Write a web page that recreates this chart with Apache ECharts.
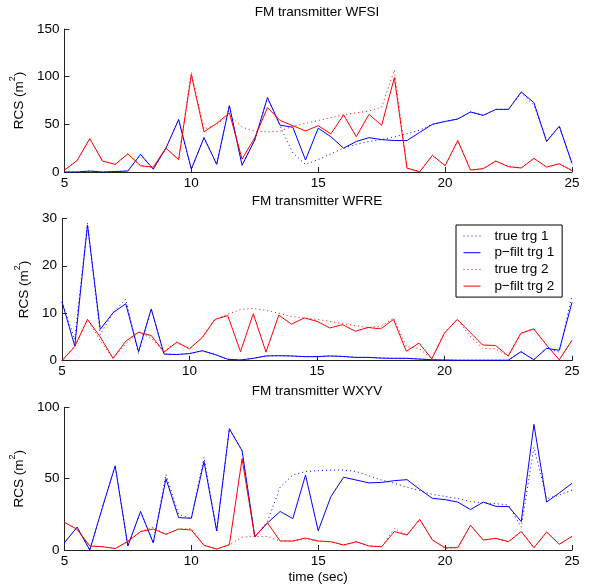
<!DOCTYPE html>
<html>
<head>
<meta charset="utf-8">
<script src="https://cdn.jsdelivr.net/npm/echarts@6/dist/echarts.min.js"></script>
<style>html,body{margin:0;padding:0;background:#fff;}#c{width:590px;height:586px;}</style>
</head>
<body>
<div id="c"></div>
<script>
// time samples (sec)
const times = [5,5.5,6,6.5,7,7.5,8,8.5,9,9.5,10,10.5,11,11.5,12,12.5,13,13.5,14,14.5,15,15.5,16,16.5,17,17.5,18,18.5,19,19.5,20,20.5,21,21.5,22,22.5,23,23.5,24,24.5,25];

const titles = ['FM transmitter WFSI', 'FM transmitter WFRE', 'FM transmitter WXYV'];
const seriesNames = ['true trg 1', 'p\u2212filt trg 1', 'true trg 2', 'p\u2212filt trg 2'];
const xTicks = [5, 10, 15, 20, 25];
const yMax = [150, 30, 100];
const yStep = [50, 10, 50];

// WFSI
const wfsiTrue1 = [0,0,1,0,0.5,1,18.5,3,25,55,3,36,8,69.6,7,33.6,78,48,20,8,13,19,25,29,32,34,37,40,44,50,53,55.6,63,59.4,65.7,65.7,83,70,33,48,9];
const wfsiFilt1 = [0,0,1,0,0.5,1,18.5,3,25,55,3,36,8,69.6,7,33.6,78,49,47,12.6,46,37,25,32,36,34,33,33,41.6,50,53,55.6,63,59.4,65.7,65.7,84,72.7,32,48,9];
const wfsiTrue2 = [2,12,35,11.5,8,19,6.6,5,25,13,105,45,50,60,47,43,42,43,48,51,54,57,60,62,64,68,107,4,0.3,17.5,6.6,33,2,3.5,11.5,5.6,4.2,14.3,5.2,8.7,1.4];
const wfsiFilt2 = [2,12,35,11.5,8,19,6.6,5,25,13,102,42,51,62,13.6,36,67.5,54,48.6,43,48.6,40,60,37,60.5,49,99,4,0.3,17.5,6.6,33,2,3.5,11.5,5.6,4.2,14.3,5.2,8.7,1.4];

// WFRE
const wfreTrue1 = [12.4,4.5,29,5.5,10.1,13,1.5,10.9,1.4,1.3,1.5,2.1,1.3,0.3,0.15,0.5,1,1.05,1,0.85,0.85,1,0.9,0.7,0.7,0.55,0.5,0.5,0.35,0.2,0.15,0.1,0.1,0.1,0.1,0.1,1.9,0.2,2.6,1.8,13.8];
const wfreFilt1 = [12.4,3.1,28.6,6.6,10.1,12,1.9,10.9,1.4,1.3,1.5,2.1,1.3,0.3,0.15,0.5,1,1.05,1,0.85,0.85,1,0.9,0.7,0.7,0.55,0.5,0.5,0.35,0.2,0.15,0.1,0.1,0.1,0.1,0.1,1.9,0.2,2.6,2.2,12.3];
const wfreTrue2 = [0,3,8.7,4.2,0.5,3.5,6,4.8,2,3.9,2.5,4.9,8.7,9.8,10.8,11,10.6,10,9.3,9,8.7,8.3,7.8,7.4,7,7.2,9,3,2.6,0.4,6,8.7,5.2,2.6,2.5,1,5.8,6.7,3.3,0.2,4.3];
const wfreFilt2 = [0,3,8.7,5,0.5,4.1,6,5.3,1.8,3.9,2.5,4.9,8.7,9.5,1.9,9.9,1.8,9.6,7.7,9,8.3,6.9,7.6,6.2,7,6.7,8.7,2,3.7,0.4,5.8,8.7,6,3.3,3.2,1,5.8,6.7,3.3,0.2,4.3];

// WXYV
const wxyvTrue1 = [5.1,16,0,30,59,2.8,27,5,53,25,22.2,65,13.3,85,69.6,9,20,44,52.6,55,55.6,56,56,55,52,49,46.7,44,41.6,39,37.6,36,34,33,32.5,31.5,16,72,36,38.5,42];
const wxyvFilt1 = [5.1,16,0,30,59,2.8,27,5,50,22.7,22.2,62,13.3,85,69.6,9.3,19,27,22,52.5,13.5,37.4,51,49,47,47.4,48.6,49.3,42.5,36.2,35.3,33.6,28.3,33.6,30.6,30.4,19.9,88,33.6,40,46.7];
const wxyvTrue2 = [19.4,14.5,2.8,2.3,1,6,12.9,16,11,14.7,15,3.3,0.7,3.7,9,9.5,9.5,6.3,6.3,7.5,6.3,5.8,3.5,5.8,2.8,2.3,15,10.5,21.5,7,1,1.6,17.3,7,8.2,5.8,13,1.6,12.6,4,9.6];
const wxyvFilt2 = [19.4,14.5,2.8,2.3,1,6,12.9,14.7,11,14.7,14,3.3,0.7,3.7,64,9.3,19,6.3,6.3,8.4,6.3,5.8,3.5,5.8,2.8,2.3,12.9,10.5,21.5,7,1.6,1.6,17.3,7,8.2,5.8,13,1.6,12.6,4,9.6];

const panels = [
  [wfsiTrue1, wfsiFilt1, wfsiTrue2, wfsiFilt2],
  [wfreTrue1, wfreFilt1, wfreTrue2, wfreFilt2],
  [wxyvTrue1, wxyvFilt1, wxyvTrue2, wxyvFilt2]
];

const FONT = 'Liberation Sans, Arial, Helvetica, sans-serif';
const FS = 13.5;
const gridTops = [29, 218.3, 407.3];
const gridH = [143, 142.4, 142.7];
const titleCenters = [13, 202, 392];
const colors = ['#0000ff', '#0000ff', '#ff0000', '#ff0000'];
const dotted = [true, false, true, false];

const grids = [], xAxes = [], yAxes = [], series = [], titleOpts = [];
for (let p = 0; p < 3; p++) {
  grids.push({left: 62, width: 510, top: gridTops[p], height: gridH[p], containLabel: false});
  titleOpts.push({
    text: titles[p], left: 317, top: titleCenters[p] - 7.5, textAlign: 'center', padding: 0,
    textStyle: {fontFamily: FONT, fontSize: FS, fontWeight: 'normal', color: '#000'}
  });
  xAxes.push({
    type: 'value', gridIndex: p, min: xTicks[0], max: xTicks[xTicks.length - 1], interval: 5,
    axisLine: {show: true, onZero: false, lineStyle: {color: '#222', width: 1}},
    axisTick: {show: true, inside: true, length: 5, lineStyle: {color: '#222'}},
    axisLabel: {fontFamily: FONT, fontSize: FS, color: '#000', margin: 4},
    splitLine: {show: false},
    name: p === 2 ? 'time (sec)' : '', nameLocation: 'middle', nameGap: 20,
    nameTextStyle: {fontFamily: FONT, fontSize: FS, color: '#000'}
  });
  yAxes.push({
    type: 'value', gridIndex: p, min: 0, max: yMax[p], interval: yStep[p],
    axisLine: {show: true, lineStyle: {color: '#222', width: 1}},
    axisTick: {show: true, inside: true, length: 5, lineStyle: {color: '#222'}},
    axisLabel: {fontFamily: FONT, fontSize: FS, color: '#000', margin: 5},
    splitLine: {show: false},
    name: '{a|RCS (m}{s|2}{a|)}', nameLocation: 'middle', nameGap: 29, nameRotate: 90,
    nameTextStyle: {
      fontFamily: FONT, fontSize: FS, color: '#000',
      rich: {
        a: {fontFamily: FONT, fontSize: FS, color: '#000', lineHeight: 18, verticalAlign: 'bottom'},
        s: {fontFamily: FONT, fontSize: 9, color: '#000', lineHeight: 18, verticalAlign: 'top'}
      }
    }
  });
  for (let s = 0; s < 4; s++) {
    const vals = panels[p][s];
    series.push({
      name: seriesNames[s], type: 'line', xAxisIndex: p, yAxisIndex: p,
      data: times.map((t, i) => [t, vals[i]]),
      symbol: 'none', showSymbol: false, silent: true,
      lineStyle: {color: colors[s], width: 1, type: dotted[s] ? [1, 3] : 'solid'},
      itemStyle: {color: colors[s]},
      z: s + 2
    });
  }
}

const chart = echarts.init(document.getElementById('c'), null, {renderer: 'canvas'});
chart.setOption({
  animation: false,
  backgroundColor: '#fff',
  title: titleOpts,
  grid: grids,
  xAxis: xAxes,
  yAxis: yAxes,
  legend: {
    show: true,
    data: seriesNames, orient: 'vertical', left: 456, top: 225,
    padding: [4, 8, 4, 7], itemWidth: 17, itemHeight: 13, itemGap: 2.7,
    backgroundColor: '#fff', borderColor: '#000', borderWidth: 1,
    selectedMode: false, z: 20,
    itemStyle: {opacity: 0},
    lineStyle: {width: 1},
    textStyle: {fontFamily: FONT, fontSize: FS, color: '#000', padding: [0, 0, 0, 9]}
  },
  series: series
});
</script>
</body>
</html>
